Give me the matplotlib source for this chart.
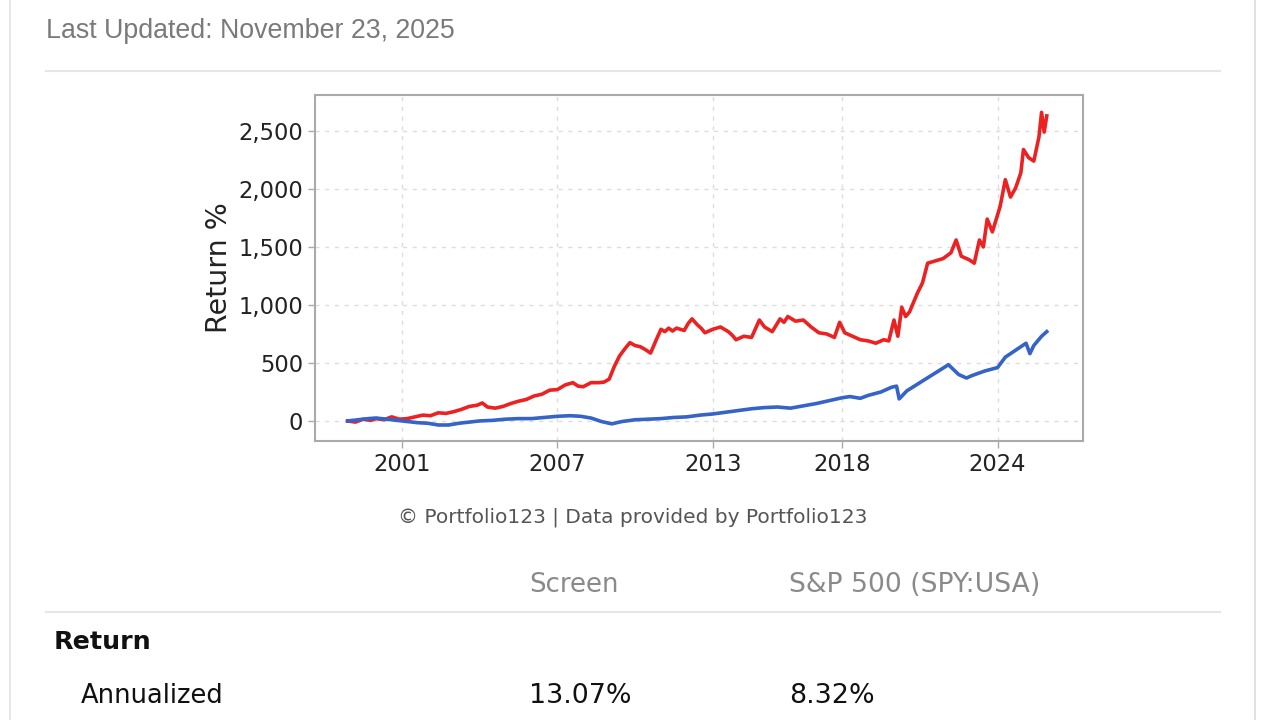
import matplotlib.pyplot as plt
from matplotlib.ticker import FuncFormatter

# Screen (red) cumulative return %
screen_years = [1998.9, 1999.2, 1999.5, 1999.8, 2000.0, 2000.3, 2000.6, 2000.9, 2001.2, 2001.5,
                2001.8, 2002.1, 2002.4, 2002.7, 2003.0, 2003.3, 2003.6, 2003.9, 2004.1, 2004.3,
                2004.6, 2004.9, 2005.2, 2005.5, 2005.8, 2006.1, 2006.4, 2006.7, 2007.0, 2007.3,
                2007.6, 2007.8, 2008.0, 2008.3, 2008.6, 2008.8, 2009.0, 2009.2, 2009.4, 2009.6,
                2009.8, 2010.0, 2010.2, 2010.4, 2010.6, 2010.8, 2011.0, 2011.15, 2011.3, 2011.45,
                2011.6, 2011.9, 2012.05, 2012.2, 2012.4, 2012.55, 2012.7, 2013.0, 2013.3, 2013.6,
                2013.75, 2013.9, 2014.2, 2014.5, 2014.8, 2015.0, 2015.3, 2015.6, 2015.75, 2015.9,
                2016.2, 2016.5, 2016.8, 2017.1, 2017.4, 2017.7, 2017.9, 2018.1, 2018.4, 2018.7,
                2019.0, 2019.3, 2019.6, 2019.8, 2020.0, 2020.15, 2020.3, 2020.45, 2020.6, 2020.9,
                2021.1, 2021.3, 2021.6, 2021.9, 2022.2, 2022.4, 2022.6, 2022.9, 2023.1, 2023.3,
                2023.45, 2023.6, 2023.8, 2024.1, 2024.3, 2024.5, 2024.7, 2024.9, 2025.0, 2025.2,
                2025.4, 2025.6, 2025.7, 2025.8, 2025.9]
screen_ret = [0, -10, 15, 5, 20, 10, 35, 15, 20, 35,
              50, 45, 70, 65, 80, 100, 125, 135, 155, 120,
              110, 125, 150, 170, 185, 215, 230, 265, 270, 310,
              330, 300, 295, 330, 330, 335, 360, 470, 560, 620,
              675, 650, 640, 615, 585, 690, 790, 770, 800, 775,
              800, 780, 840, 880, 830, 800, 760, 790, 810, 770,
              740, 700, 730, 720, 870, 810, 770, 880, 850, 900,
              860, 870, 810, 760, 750, 720, 850, 760, 730, 700,
              690, 670, 700, 690, 870, 730, 980, 900, 940, 1100,
              1190, 1360, 1380, 1400, 1450, 1560, 1420, 1390, 1360, 1560,
              1500, 1740, 1630, 1850, 2080, 1930, 2010, 2140, 2340, 2270,
              2240, 2450, 2660, 2490, 2630]

# S&P 500 (blue) cumulative return %
spy_years = [1998.9, 1999.3, 1999.7, 2000.0, 2000.4, 2000.8, 2001.2, 2001.6, 2002.0, 2002.4,
             2002.8, 2003.2, 2003.6, 2004.0, 2004.5, 2005.0, 2005.5, 2006.0, 2006.5, 2007.0,
             2007.5, 2007.9, 2008.3, 2008.7, 2009.1, 2009.5, 2010.0, 2010.5, 2011.0, 2011.5,
             2012.0, 2012.5, 2013.0, 2013.5, 2014.0, 2014.5, 2015.0, 2015.5, 2016.0, 2016.5,
             2017.0, 2017.5, 2018.0, 2018.3, 2018.7, 2019.0, 2019.5, 2019.9, 2020.1, 2020.2,
             2020.5, 2021.0, 2021.5, 2022.0, 2022.1, 2022.5, 2022.8, 2023.0, 2023.5, 2024.0,
             2024.3, 2024.7, 2025.1, 2025.25, 2025.4, 2025.7, 2025.9]
spy_ret = [0, 10, 20, 25, 15, 5, -5, -15, -20, -35,
           -35, -20, -10, 0, 5, 15, 20, 20, 30, 40,
           45, 40, 25, -5, -25, -5, 10, 15, 20, 30,
           35, 50, 60, 75, 90, 105, 115, 120, 110, 130,
           150, 175, 200, 210, 195, 220, 250, 290, 300, 190,
           260, 330, 400, 470, 485, 400, 370, 390, 430, 460,
           550, 610, 670, 580, 650, 730, 770]

year_ticks = [2001, 2007, 2013, 2018, 2024]
y_ticks = [0, 500, 1000, 1500, 2000, 2500]

col_headers = ["Screen", "S&P 500 (SPY:USA)"]
annualized = ["13.07%", "8.32%"]

fig = plt.figure(figsize=(12.8, 7.2), dpi=100)

# page overlay in pixel coordinates
page = fig.add_axes([0, 0, 1, 1])
page.set_xlim(0, 1280)
page.set_ylim(720, 0)
page.axis('off')
page.plot([10, 10], [0, 720], color='#e3e3e3', lw=1.2)
page.plot([1255, 1255], [0, 720], color='#dddddd', lw=1.2)
page.plot([46, 1220], [71, 71], color='#e6e6e6', lw=1.5)
page.plot([46, 1220], [612, 612], color='#e6e6e6', lw=1.5)

page.text(46, 31, "Last Updated: November 23, 2025", fontsize=19.3, color='#7a7a7a',
          family='Liberation Sans', va='center', ha='left')
page.text(633, 517, "\u00a9 Portfolio123 | Data provided by Portfolio123", fontsize=14.5,
          color='#555555', va='center', ha='center')
page.text(529, 585, col_headers[0], fontsize=18.7, color='#8a8a8a', va='center', ha='left')
page.text(789, 585, col_headers[1], fontsize=19.2, color='#8a8a8a', va='center', ha='left')
page.text(54, 642, "Return", fontsize=18.3, fontweight='bold', color='#111111', va='center', ha='left')
page.text(81, 696, "Annualized", fontsize=18.5, color='#111111', va='center', ha='left')
page.text(529, 696, annualized[0], fontsize=19.4, color='#111111', va='center', ha='left')
page.text(789, 696, annualized[1], fontsize=19.4, color='#111111', va='center', ha='left')

# chart
ax = fig.add_axes([315 / 1280, 1 - 441 / 720, 768 / 1280, 346 / 720])
ax.plot(screen_years, screen_ret, color='#ec2222', lw=2.6)
ax.plot(spy_years, spy_ret, color='#3563c8', lw=2.6)

ax.set_xlim(1997.64, 2027.3)
ax.set_ylim(-173, 2810)
ax.set_xticks(year_ticks)
ax.set_xticklabels([str(y) for y in year_ticks])
ax.set_yticks(y_ticks)
ax.yaxis.set_major_formatter(FuncFormatter(lambda v, p: f"{int(v):,}"))
ax.tick_params(labelsize=16.3, colors='#aaaaaa', labelcolor='#222222', length=5, width=1)
ax.grid(True, color='#dddddd', linestyle=(0, (3, 4)), lw=1)
for s in ax.spines.values():
    s.set_color('#aaaaaa')
    s.set_linewidth(1.5)
ax.set_ylabel("Return %", fontsize=20.5, color='#222222', labelpad=4)

fig.savefig("out.png", dpi=100)
